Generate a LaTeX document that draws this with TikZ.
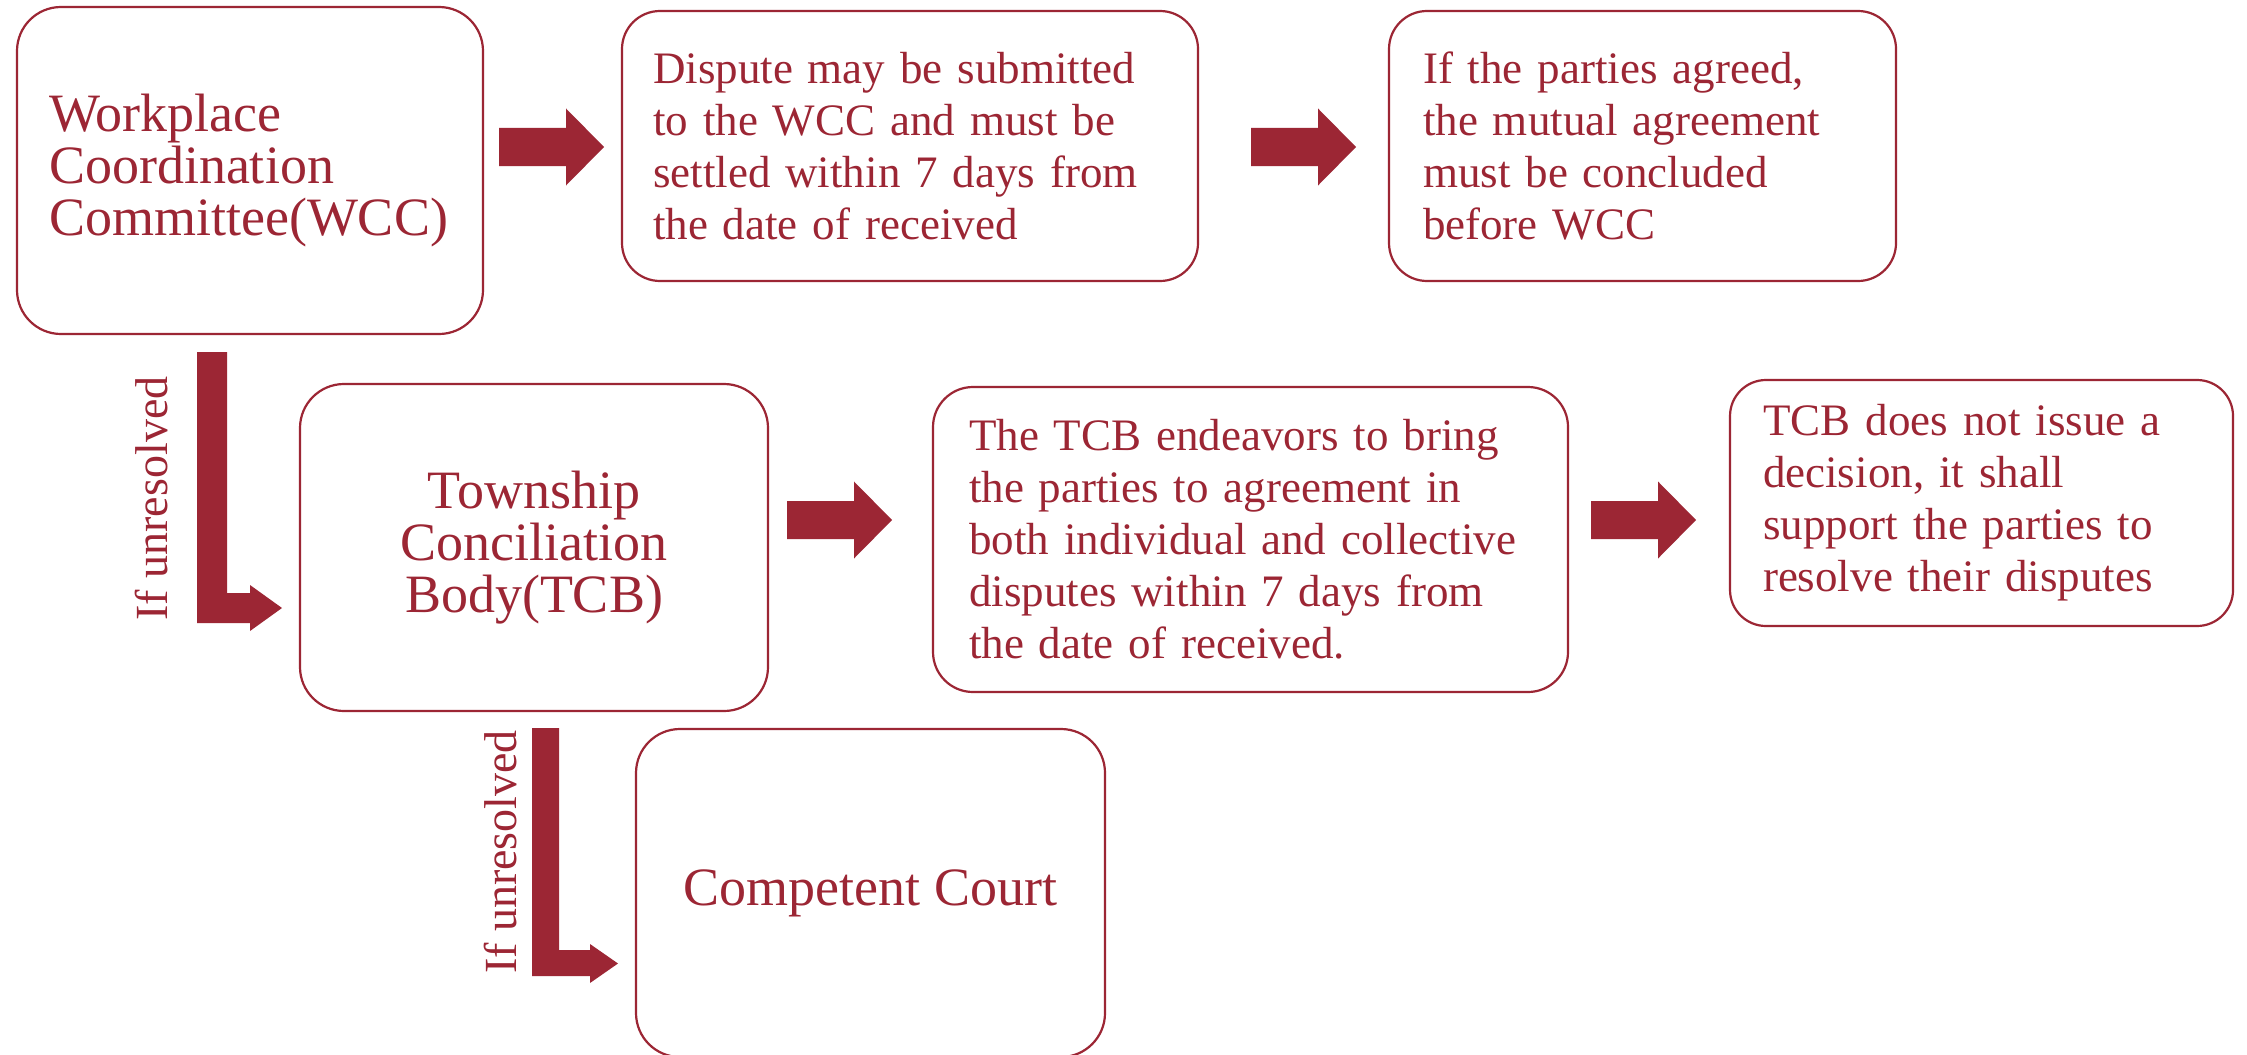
\documentclass[tikz,border=0pt]{standalone}
\usepackage{fontspec}
\setmainfont{Liberation Serif}
\definecolor{myred}{RGB}{156,38,52}
\begin{document}
\begin{tikzpicture}[x=0.5pt,y=-0.5pt,
  box/.style={draw=myred, line width=1.1pt, text=myred, inner ysep=0pt},
  small/.style={font=\fontsize{22.5}{26}\selectfont, align=left},
  big/.style={font=\fontsize{27}{26}\selectfont},
  lbl/.style={text=myred, font=\fontsize{23}{26}\selectfont, rotate=90, anchor=base, inner sep=0pt},
  pics/harrow/.style={code={
    \fill[myred] (0,-19) -- (67,-19) -- (67,-38.5) -- (105,0) -- (67,38.5) -- (67,19) -- (0,19) -- cycle;}}]
\useasboundingbox (0,0) rectangle (2247,1054);
\clip (0,0) rectangle (2247,1054);
\fill[white] (0,0) rectangle (2247,1054);

% boxes
\node[box, big, align=left, rounded corners=22pt, minimum width=233pt, minimum height=163.5pt,
      text width=201pt, inner xsep=16pt] (wcc) at (250,170.5)
  {Workplace\\Coordination\\Committee(WCC)};
\node[box, small, rounded corners=19pt, minimum width=288pt, minimum height=135pt,
      text width=257pt, inner xsep=15.5pt] (sub) at (910,146)
  {Dispute may be submitted\\to the WCC and must be\\settled within 7 days from\\the date of received};
\node[box, small, rounded corners=19pt, minimum width=253.5pt, minimum height=135pt,
      text width=219.5pt, inner xsep=17pt] (agr) at (1642.5,146)
  {If the parties agreed,\\the mutual agreement\\must be concluded\\before WCC};
\node[box, big, align=center, rounded corners=22pt, minimum width=234pt, minimum height=163.5pt] (tcb) at (534,547.5)
  {Township\\Conciliation\\Body(TCB)};
\node[box, small, rounded corners=20pt, minimum width=317.5pt, minimum height=152.5pt,
      text width=281.5pt, inner xsep=18pt] (end) at (1250.5,539.5)
  {The TCB endeavors to bring\\the parties to agreement in\\both individual and collective\\disputes within 7 days from\\the date of received.};
\node[box, small, rounded corners=18pt, minimum width=251.5pt, minimum height=123pt,
      text width=218.5pt, inner xsep=16.5pt] (sup) at (1981.5,503)
  {TCB does not issue a\\decision, it shall\\support the parties to\\resolve their disputes};
\node[box, big, align=center, rounded corners=22pt, minimum width=234.5pt, minimum height=164pt] (court) at (870.5,893)
  {Competent Court};

% block arrows
\pic at (499,147) {harrow};
\pic at (1251,147) {harrow};
\pic at (787,520) {harrow};
\pic at (1591,520) {harrow};

% L-shaped arrows
\fill[myred] (197,352) -- (227,352) -- (227,593) -- (250,593) -- (250,585) -- (282,608)
  -- (250,631) -- (250,623) -- (197,623) -- cycle;
\fill[myred] (532,728) -- (559,728) -- (559,950) -- (590,950) -- (590,944) -- (618,963.5)
  -- (590,983) -- (590,976) -- (532,976) -- cycle;

% labels
\node[lbl] (l1) at (167,498.5) {If unresolved};
\node[lbl] (l2) at (516,852) {If unresolved};
\end{tikzpicture}
\end{document}
